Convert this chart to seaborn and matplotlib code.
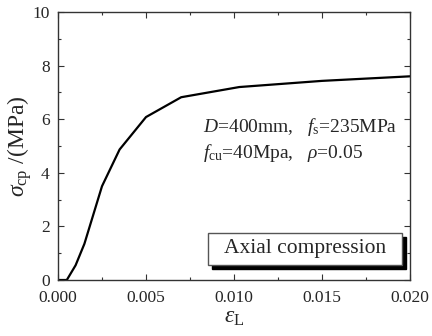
import matplotlib
matplotlib.use("Agg")
import matplotlib.pyplot as plt
import seaborn as sns
import pandas as pd
from matplotlib.patches import Rectangle
from matplotlib.ticker import MultipleLocator

strain = [0.0, 0.0005, 0.001, 0.0015, 0.0025, 0.0035, 0.005, 0.007, 0.0103, 0.015, 0.020]
stress = [0.0, 0.0, 0.55, 1.35, 3.5, 4.87, 6.08, 6.82, 7.2, 7.43, 7.6]
xticks = [0.000, 0.005, 0.010, 0.015, 0.020]
xticklabels = ["0.000", "0.005", "0.010", "0.015", "0.020"]
yticks = [0, 2, 4, 6, 8, 10]

sns.set_style("ticks")
plt.rcParams["font.family"] = ["Liberation Serif", "DejaVu Serif"]
plt.rcParams["mathtext.fontset"] = "custom"
plt.rcParams["mathtext.rm"] = "Liberation Serif"
plt.rcParams["mathtext.it"] = "Liberation Serif:italic"

df = pd.DataFrame({"strain": strain, "stress": stress})

fig = plt.figure(figsize=(4.32, 3.36), dpi=100)
ax = fig.add_axes([58 / 432, 1 - 280 / 336, 352 / 432, 268 / 336])
sns.lineplot(data=df, x="strain", y="stress", ax=ax, color="black", linewidth=1.6, sort=False)

ax.set_xlim(0, 0.020)
ax.set_ylim(0, 10)
ax.set_xticks(xticks)
ax.set_xticklabels(xticklabels)
ax.set_yticks(yticks)
ax.xaxis.set_minor_locator(MultipleLocator(0.0025))
ax.yaxis.set_minor_locator(MultipleLocator(1))
ax.tick_params(which="both", direction="in", top=True, right=True, labeltop=False, labelright=False, width=0.8, color="#333333")
ax.tick_params(which="major", length=4, labelsize=12.5)
ax.tick_params(axis="x", which="major", pad=7)
ax.tick_params(axis="y", which="major", pad=6)
ax.tick_params(which="minor", length=2)
for s in ax.spines.values():
    s.set_linewidth(1.0)
    s.set_color("#333333")
    s.set_visible(True)

ax.set_xlabel(r"$\varepsilon_{\rm L}$", fontsize=17, labelpad=1)
ax.set_ylabel(r"$\sigma_{\rm cp}$ /(MPa)", fontsize=17, labelpad=-1)

ax.text(203 / 432, 1 - 131.7 / 336, r"$D$=400mm,   $f_{\rm s}$=235MPa", transform=fig.transFigure,
        fontsize=14, ha="left", va="baseline")
ax.text(203 / 432, 1 - 158 / 336, r"$f_{\rm cu}$=40Mpa,   $\rho$=0.05", transform=fig.transFigure,
        fontsize=14, ha="left", va="baseline")

# text box with shadow (axes coordinates)
bx0, bx1 = (208 - 58) / 352, (402 - 58) / 352
by0, by1 = (280 - 265) / 268, (280 - 233) / 268
dx, dy = 4 / 352, 4 / 268
ax.add_patch(Rectangle((bx0 + dx, by0 - dy), bx1 - bx0, by1 - by0, transform=ax.transAxes,
                       facecolor="black", edgecolor="black", zorder=5))
ax.add_patch(Rectangle((bx0, by0), bx1 - bx0, by1 - by0, transform=ax.transAxes,
                       facecolor="white", edgecolor="#555555", linewidth=1.0, zorder=6))
ax.text((bx0 + bx1) / 2, (by0 + by1) / 2, "Axial compression", transform=ax.transAxes,
        fontsize=15.5, ha="center", va="center", zorder=7)

fig.savefig("out.png", dpi=100)
